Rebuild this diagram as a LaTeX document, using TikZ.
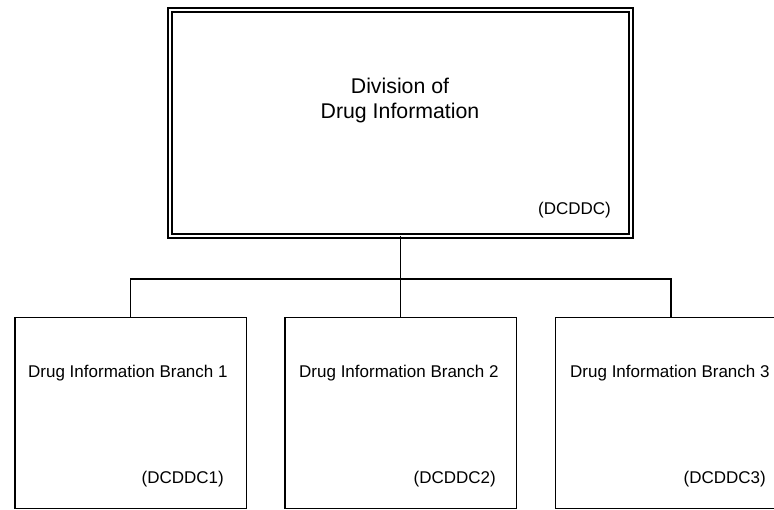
\documentclass[tikz,border=0pt]{standalone}
\usepackage{fontspec}
\setmainfont{Liberation Sans}
\begin{document}
\begin{tikzpicture}[x=1pt,y=-1pt,
  topbox/.style={draw, double, line width=1.4pt, double distance=2.6pt, fill=white,
    minimum width=461pt, minimum height=226pt, inner sep=0pt, outer sep=0pt},
  branchbox/.style={draw, line width=1.5pt, fill=white,
    minimum width=231.5pt, minimum height=190.75pt, inner sep=0pt, outer sep=0pt},
  toplabel/.style={font=\fontsize{21.3pt}{25pt}\selectfont, align=center, inner sep=0pt},
  branchlabel/.style={font=\fontsize{17pt}{20pt}\selectfont, inner sep=0pt},
  codelabel/.style={font=\fontsize{17pt}{20pt}\selectfont, inner sep=0pt, anchor=base east},
  wire/.style={line width=1.5pt}
]
\useasboundingbox (0,0) rectangle (774,509);
\clip (0,0) rectangle (774,509);
\coordinate (bus) at (400.5,279);
\node[topbox] (top) at (400.5,123) {};
\node[branchbox] (b1) at (130.5,413.1) {};
\node[branchbox] (b2) at (400.5,413.1) {};
\node[branchbox] (b3) at (671,413.1) {};
\draw[wire] (top.south) -- (bus);
\draw[wire] (b1.north) |- (bus) -| (b3.north);
\draw[wire] (bus) -- (b2.north);
\node[toplabel] (tl) at (400,100) {Division of\\Drug Information};
\node[codelabel] (tc) at (611,214) {(DCDDC)};
\node[branchlabel, anchor=base west] (l1) at (28,377) {Drug Information Branch 1};
\node[branchlabel, anchor=base west] (l2) at (299,377) {Drug Information Branch 2};
\node[branchlabel, anchor=base west] (l3) at (570,377) {Drug Information Branch 3};
\node[codelabel] (c1) at (224,483) {(DCDDC1)};
\node[codelabel] (c2) at (496,483) {(DCDDC2)};
\node[codelabel] (c3) at (766,483) {(DCDDC3)};
\end{tikzpicture}
\end{document}
